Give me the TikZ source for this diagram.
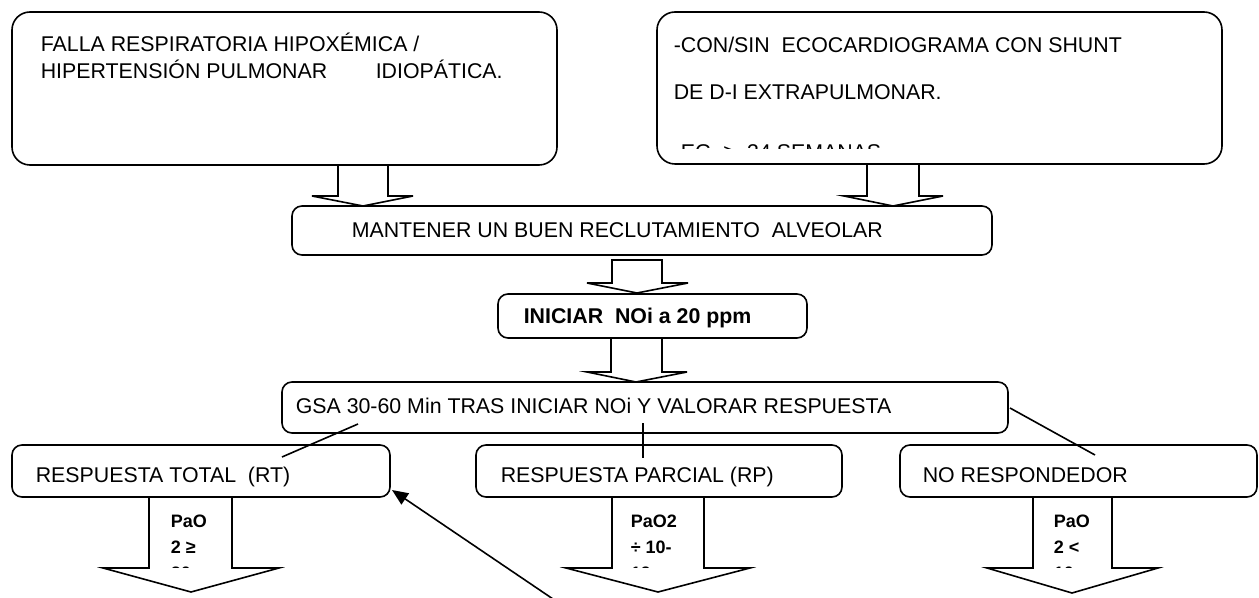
\documentclass[tikz,border=0pt]{standalone}
\usepackage{fontspec}
\setmainfont{Liberation Sans}
\usetikzlibrary{arrows.meta}
\newcommand\blockarrow[8]{\draw[fill=white] (#1,#3) -- (#1,#4) -- (#5,#4) -- (#7,#8) -- (#6,#4) -- (#2,#4) -- (#2,#3) -- cycle;}
\begin{document}
\begin{tikzpicture}[x=0.75pt,y=-0.75pt,line width=1.2pt,
  bigbox/.style={draw,rounded corners=13.5pt,inner sep=0pt},
  midbox/.style={draw,rounded corners=7.5pt,inner sep=0pt},
  txt/.style={anchor=base west,inner sep=0pt,font=\fontsize{16}{20.25}\selectfont},
  btxt/.style={anchor=base west,inner sep=0pt,font=\fontsize{16}{20.25}\selectfont\bfseries},
  atxt/.style={anchor=base west,inner sep=0pt,font=\fontsize{13.5}{19.5}\selectfont\bfseries}]
\useasboundingbox (0,0) rectangle (1259,598);
% top boxes
\node[bigbox,minimum width=408.75pt,minimum height=114.75pt] (fall) at (284.5,88.5) {};
\node[txt] (fallt1) at (40,52) {FALLA RESPIRATORIA HIPOXÉMICA /};
\node[txt] (fallt2) at (40,79) {HIPERTENSIÓN PULMONAR};
\node[txt] (fallt3) at (375,79) {IDIOPÁTICA.};
\node[bigbox,minimum width=423.75pt,minimum height=114pt] (eco) at (939.5,88) {};
\node[txt] (ecot1) at (673,53) {-CON/SIN\ \ ECOCARDIOGRAMA CON SHUNT};
\node[txt] (ecot2) at (673,100) {DE D-I EXTRAPULMONAR.};
\begin{scope}
\clip (657,138) rectangle (1222,149);
\node[txt] (ecot3) at (673,160) {-EG \ ≥ \ 34 SEMANAS};
\end{scope}
% block arrows to MANTENER
\blockarrow{338}{388}{165}{196}{312}{413}{363}{206}
\blockarrow{867}{919}{164}{196}{844}{943}{893}{206}
% MANTENER
\node[midbox,minimum width=525pt,minimum height=36.75pt] (mant) at (642,230.5) {};
\node[txt] (mantt) at (351,238) {MANTENER UN BUEN RECLUTAMIENTO\ \ ALVEOLAR};
\blockarrow{612}{662}{260}{283}{587}{688}{637}{293}
% INICIAR
\node[midbox,minimum width=231.75pt,minimum height=33pt] (inic) at (652.5,316) {};
\node[btxt] (inict) at (523,324) {INICIAR\ \ NOi a 20 ppm};
\blockarrow{611}{662}{338}{372}{587}{687}{636}{382}
% GSA
\node[midbox,minimum width=544.5pt,minimum height=38.25pt] (gsa) at (645,407.5) {};
\node[txt] (gsat) at (295,413) {GSA 30-60 Min TRAS INICIAR NOi Y VALORAR RESPUESTA};
% responses
\node[midbox,minimum width=283.5pt,minimum height=39pt] (rt) at (201,471) {};
\node[txt] (rtt) at (35,482) {RESPUESTA TOTAL\ \ (RT)};
\node[midbox,minimum width=274.5pt,minimum height=39pt] (rp) at (659,471) {};
\node[txt] (rpt) at (500,482) {RESPUESTA PARCIAL (RP)};
\node[midbox,minimum width=267.75pt,minimum height=39pt] (nr) at (1078.5,471) {};
\node[txt] (nrt) at (922,482) {NO RESPONDEDOR};
% connector lines
\coordinate (c1a) at (358,424); \coordinate (c1b) at (282,457);
\draw (c1a) -- (c1b);
\coordinate (c2a) at (643,423); \coordinate (c2b) at (643,458);
\draw (c2a) -- (c2b);
\coordinate (c3a) at (1010,408); \coordinate (c3b) at (1095,455);
\draw (c3a) -- (c3b);
\coordinate (tail) at (553,599); \coordinate (tip) at (392,490);
\draw[-{Triangle[length=12pt,width=10pt]}] (tail) -- (tip);
% lower block arrows
\blockarrow{149}{232}{497}{568}{103}{279}{191}{592}
\blockarrow{612}{704}{497}{568}{566}{750}{658}{592}
\blockarrow{1033}{1112}{497}{568}{987}{1158}{1072}{593}
\begin{scope}
\clip (149,497) rectangle (232,567);
\node[atxt] (a1a) at (170,527) {PaO};
\node[atxt] (a1b) at (170,553) {2 ≥};
\node[atxt] (a1c) at (170,579) {20};
\end{scope}
\begin{scope}
\clip (612,497) rectangle (704,567);
\node[atxt] (a2a) at (630,527) {PaO2};
\node[atxt] (a2b) at (630,553) {÷ 10-};
\node[atxt] (a2c) at (630,579) {19};
\end{scope}
\begin{scope}
\clip (1033,497) rectangle (1112,567);
\node[atxt] (a3a) at (1053,527) {PaO};
\node[atxt] (a3b) at (1053,553) {2 <};
\node[atxt] (a3c) at (1053,579) {10};
\end{scope}
\end{tikzpicture}
\end{document}
